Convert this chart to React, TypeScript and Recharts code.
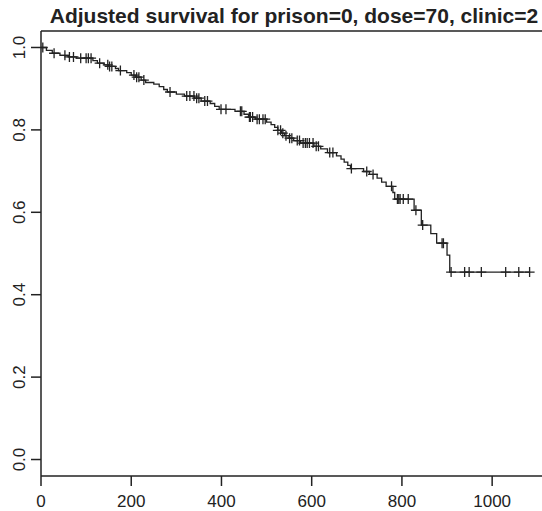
import {
  ComposedChart,
  Line,
  Scatter,
  XAxis,
  YAxis,
  ReferenceLine,
} from 'recharts';

// Kaplan-Meier style adjusted survival curve (step times and survival after each step)
const stepTimes = [
  12, 25, 42, 60, 78, 115, 125, 140, 150, 165, 172, 190, 200, 210, 222, 232,
  250, 262, 272, 280, 300, 318, 340, 355, 375, 385, 395, 430, 450, 460, 475,
  500, 510, 518, 525, 533, 540, 550, 560, 575, 605, 620, 635, 655, 665, 672,
  680, 686, 715, 728, 745, 755, 765, 780, 784, 827, 843, 864, 877, 900, 906,
];
const stepSurv = [
  0.993, 0.986, 0.981, 0.977, 0.974, 0.968, 0.962, 0.958, 0.954, 0.949, 0.944,
  0.939, 0.933, 0.928, 0.921, 0.915, 0.911, 0.905, 0.898, 0.892, 0.887, 0.882,
  0.877, 0.87, 0.864, 0.857, 0.85, 0.845, 0.838, 0.831, 0.826, 0.819, 0.813,
  0.806, 0.799, 0.792, 0.786, 0.78, 0.774, 0.768, 0.76, 0.754, 0.745, 0.737,
  0.729, 0.722, 0.714, 0.706, 0.699, 0.692, 0.683, 0.673, 0.663, 0.648, 0.632,
  0.605, 0.569, 0.548, 0.525, 0.496, 0.455,
];

// censored observation times, drawn as "+" on the curve
const censorTimes = [
  4, 29, 53, 63, 72, 88, 100, 105, 111, 130, 148, 152, 157, 176, 206, 212, 217,
  228, 286, 323, 330, 339, 345, 350, 363, 369, 399, 410, 442, 445, 462, 464,
  469, 479, 484, 492, 497, 525, 531, 536, 543, 551, 556, 568, 573, 581, 586,
  590, 595, 603, 610, 615, 640, 647, 688, 722, 736, 777, 790, 793, 796, 803,
  814, 831, 846, 889, 892, 909, 939, 949, 976, 1030, 1059, 1083,
];

const xTicks = [0, 200, 400, 600, 800, 1000];
const yTicks = [0, 0.2, 0.4, 0.6, 0.8, 1.0];

const TITLE = 'Adjusted survival for prison=0, dose=70, clinic=2';
const INK = '#222';
const FONT = '"Liberation Sans", Arial, Helvetica, sans-serif';

function survivalAt(t: number): number {
  let s = 1;
  for (let i = 0; i < stepTimes.length; i++) {
    if (stepTimes[i] <= t) s = stepSurv[i];
  }
  return s;
}

const lastTime = censorTimes[censorTimes.length - 1];

const curve = [
  { t: 0, s: 1 },
  ...stepTimes.map((t, i) => ({ t, s: stepSurv[i] })),
  { t: lastTime, s: survivalAt(lastTime) },
];

const censored = censorTimes.map((t) => ({ t, s: survivalAt(t) }));

function PlusMark(props: any) {
  const { cx, cy } = props;
  if (cx == null || cy == null) return null;
  const r = 5;
  return (
    <path
      d={`M${cx - r},${cy}H${cx + r}M${cx},${cy - r}V${cy + r}`}
      stroke={INK}
      strokeWidth={1.3}
      fill="none"
    />
  );
}

function YTick(props: any) {
  const { y, payload } = props;
  return (
    <text
      x={25}
      y={y}
      transform={`rotate(-90, 25, ${y})`}
      textAnchor="middle"
      fontSize={17}
      fontFamily={FONT}
      fill={INK}
    >
      {Number(payload.value).toFixed(1)}
    </text>
  );
}

export default function App() {
  return (
    <div
      style={{
        position: 'absolute',
        left: 0,
        top: 0,
        width: 542,
        height: 511,
        overflow: 'hidden',
        background: '#fff',
      }}
    >
      <div
        style={{
          position: 'absolute',
          left: 0,
          width: 588,
          top: 3,
          textAlign: 'center',
          fontFamily: FONT,
          fontWeight: 'bold',
          fontSize: 21,
          lineHeight: '25px',
          color: INK,
          whiteSpace: 'nowrap',
        }}
      >
        {TITLE}
      </div>
      <ComposedChart
        width={570}
        height={511}
        margin={{ top: 31, right: 21, bottom: 0, left: 0 }}
      >
        <XAxis
          type="number"
          dataKey="t"
          domain={[0, 1126]}
          ticks={xTicks}
          allowDataOverflow
          height={35}
          tickSize={10}
          tickMargin={9}
          axisLine={{ stroke: INK, strokeWidth: 1.5 }}
          tickLine={{ stroke: INK, strokeWidth: 1.5 }}
          tick={{ fontSize: 17, fontFamily: FONT, fill: INK }}
        />
        <YAxis
          type="number"
          dataKey="s"
          domain={[-0.04, 1.04]}
          ticks={yTicks}
          allowDataOverflow
          width={41}
          tickSize={10}
          axisLine={{ stroke: INK, strokeWidth: 1.5 }}
          tickLine={{ stroke: INK, strokeWidth: 1.5 }}
          tick={<YTick />}
        />
        <ReferenceLine y={1.04} stroke={INK} strokeWidth={1.5} ifOverflow="visible" />
        <Line
          data={curve}
          dataKey="s"
          type="stepAfter"
          stroke={INK}
          strokeWidth={1.3}
          dot={false}
          activeDot={false}
          isAnimationActive={false}
        />
        <Scatter
          data={censored}
          dataKey="s"
          shape={<PlusMark />}
          isAnimationActive={false}
        />
      </ComposedChart>
    </div>
  );
}
